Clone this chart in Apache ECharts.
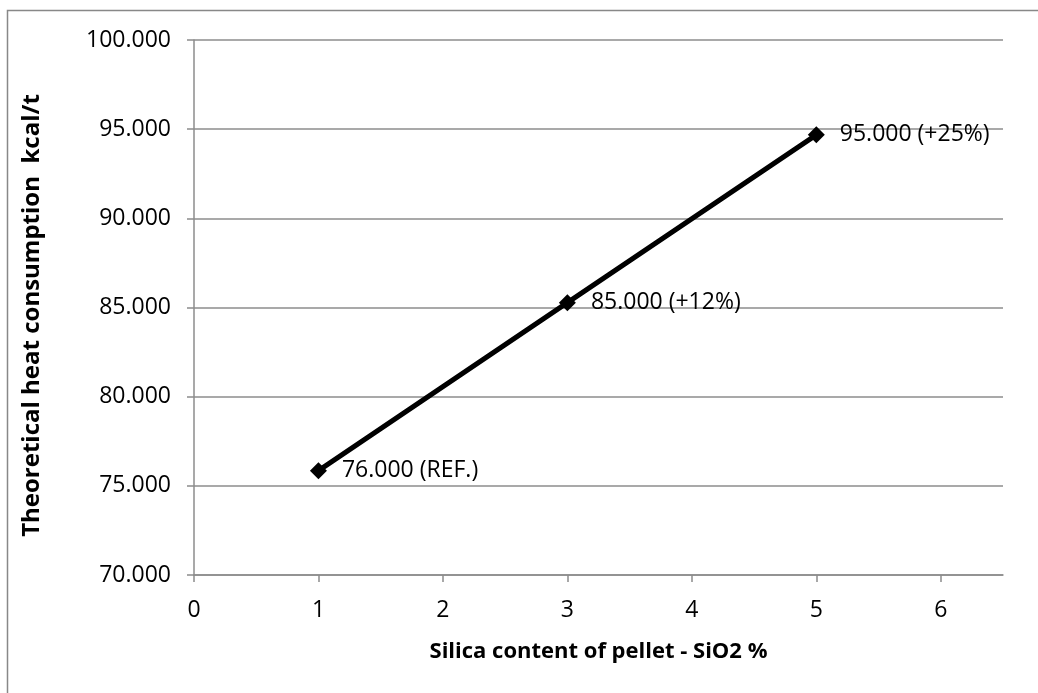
<!DOCTYPE html>
<html>
<head>
<meta charset="utf-8">
<script src="https://cdn.jsdelivr.net/npm/echarts@6/dist/echarts.min.js"></script>
<style>html,body{margin:0;padding:0;background:#fff}#c{width:1038px;height:693px}</style>
</head>
<body>
<div id="c"></div>
<script>
var silica = [1, 3, 5];
var heat = [75.85, 85.27, 94.68];
var pointLabels = ['76.000 (REF.)', '85.000 (+12%)', '95.000 (+25%)'];
var xTicks = [0, 1, 2, 3, 4, 5, 6];
var xTitle = 'Silica content of pellet - SiO2 %';
var yTitle = 'Theoretical heat consumption  kcal/t';

var chart = echarts.init(document.getElementById('c'));
var FONT = '"Open Sans", sans-serif';
chart.setOption({
  animation: false,
  graphic: [{
    type: 'rect', shape: {x: 7.5, y: 10.5, width: 1040, height: 700},
    style: {fill: 'none', stroke: '#888', lineWidth: 1.5}, silent: true
  }],
  grid: {left: 194, right: 35, top: 40, bottom: 118},
  xAxis: {
    type: 'value', min: 0, max: 6.5, interval: 1,
    name: xTitle, nameLocation: 'middle', nameGap: 66,
    nameTextStyle: {fontFamily: FONT, fontWeight: 'bold', fontSize: 22, color: '#000'},
    axisLine: {show: true, lineStyle: {color: '#8c8c8c', width: 1.5}},
    axisTick: {show: true, length: 7, customValues: xTicks, lineStyle: {color: '#8c8c8c', width: 1.5}},
    axisLabel: {fontFamily: FONT, fontSize: 23, color: '#000', margin: 24, customValues: xTicks,
      formatter: function (v) { return String(v); }},
    splitLine: {show: false}
  },
  yAxis: {
    type: 'value', min: 70, max: 100, interval: 5,
    name: yTitle, nameLocation: 'middle', nameGap: 150, nameRotate: 90,
    nameTextStyle: {fontFamily: FONT, fontWeight: 'bold', fontSize: 24, color: '#000', padding: [0, 16, 0, 0]},
    axisLine: {show: true, lineStyle: {color: '#8c8c8c', width: 1.5}},
    axisTick: {show: true, length: 7, lineStyle: {color: '#8c8c8c', width: 1.5}},
    axisLabel: {fontFamily: FONT, fontSize: 23, color: '#000', margin: 23,
      formatter: function (v) { return v.toFixed(3); }},
    splitLine: {show: true, lineStyle: {color: '#8c8c8c', width: 1.5}}
  },
  series: [{
    type: 'line',
    data: silica.map(function (x, i) { return [x, heat[i]]; }),
    lineStyle: {color: '#000', width: 5},
    itemStyle: {color: '#000'},
    symbol: 'diamond', symbolSize: 17,
    label: {
      show: true, position: 'right', distance: 15,
      fontFamily: FONT, fontSize: 23, color: '#000',
      formatter: function (p) { return pointLabels[p.dataIndex]; }
    }
  }]
});
</script>
</body>
</html>
